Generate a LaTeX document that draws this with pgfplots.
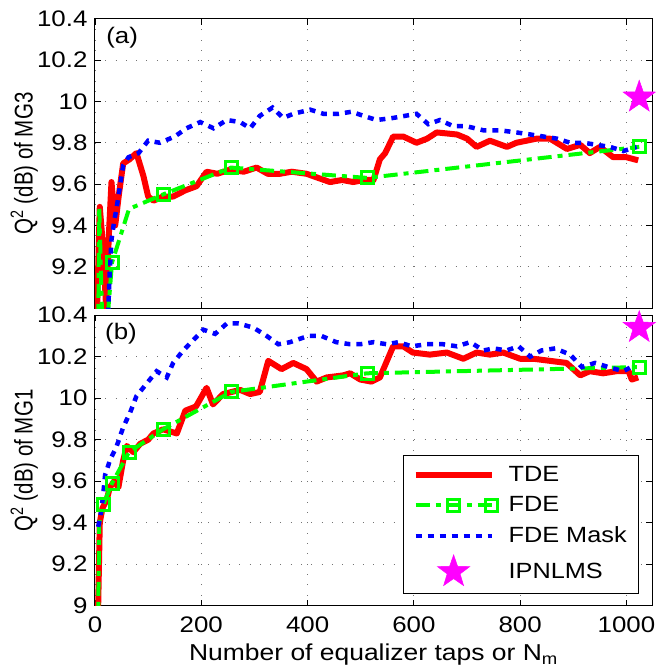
\documentclass[border=0pt]{standalone}
\usepackage{fontspec}
\setmainfont{Liberation Sans}[FakeStretch=1.15]
\newfontfamily\ylfont{Liberation Sans}
\usepackage{graphicx}
\usepackage{pgfplots}
\pgfplotsset{compat=1.18}

\definecolor{mred}{RGB}{255,0,0}
\definecolor{mgreen}{RGB}{0,255,0}
\definecolor{mblue}{RGB}{0,0,255}
\definecolor{mmag}{RGB}{255,0,255}

\pgfdeclareplotmark{pentagram}{%
  \pgfpathmoveto{\pgfpointpolar{90}{\pgfplotmarksize}}%
  \pgfpathlineto{\pgfpointpolar{126}{0.40\pgfplotmarksize}}%
  \pgfpathlineto{\pgfpointpolar{162}{\pgfplotmarksize}}%
  \pgfpathlineto{\pgfpointpolar{198}{0.40\pgfplotmarksize}}%
  \pgfpathlineto{\pgfpointpolar{234}{\pgfplotmarksize}}%
  \pgfpathlineto{\pgfpointpolar{270}{0.40\pgfplotmarksize}}%
  \pgfpathlineto{\pgfpointpolar{306}{\pgfplotmarksize}}%
  \pgfpathlineto{\pgfpointpolar{342}{0.40\pgfplotmarksize}}%
  \pgfpathlineto{\pgfpointpolar{18}{\pgfplotmarksize}}%
  \pgfpathlineto{\pgfpointpolar{54}{0.40\pgfplotmarksize}}%
  \pgfpathclose
  \pgfusepathqfillstroke}

\pgfplotsset{
  mystyle/.style={
    scale only axis, width=557pt,
    xmin=0, xmax=1048, ymin=9, ymax=10.4,
    xtick={0,200,400,600,800,1000},
    tick align=inside, major tick length=6pt,
    grid=major,
    grid style={black!55, line width=0.8pt, dash pattern=on 0.8pt off 9.5pt},
    axis line style={line width=1pt},
    every tick/.style={black, line width=0.8pt},
    tick label style={font=\fontsize{22.5}{26}\selectfont},
    yticklabel style={xshift=-4pt},
    xticklabel style={yshift=-8pt},
    /pgf/number format/assume math mode=true,
    ylabel style={font=\ylfont\fontsize{20.5}{24}\selectfont, at={(axis description cs:-0.1023,0.5)}, anchor=south, inner sep=0pt},
    legend image code/.code={\draw[mark repeat=2,mark phase=2,#1] plot coordinates {(0pt,0pt) (38pt,0pt) (76pt,0pt)};},
  },
  tde/.style={color=mred, line width=6pt, line join=round, no marks},
  fde/.style={color=mgreen, line width=4pt, dash pattern=on 14pt off 6pt on 5pt off 6pt, mark=square, mark size=6pt, mark options={solid, line width=3pt, fill=none}},
  fdem/.style={color=mblue, line width=4.5pt, dash pattern=on 6pt off 6pt, no marks},
  ipn/.style={color=mmag, only marks, mark=pentagram, mark size=17pt, mark options={fill=mmag, line width=0.5pt}},
}

\begin{document}
\begin{tikzpicture}
\useasboundingbox (-95pt,-63.3pt) rectangle (561pt,605.7pt);

% ---------- top panel (a) ----------
\begin{axis}[mystyle, at={(0pt,297.5pt)}, anchor=south west, height=289.5pt,
  ytick={9.2,9.4,9.6,9.8,10,10.2,10.4},
  yticklabels={9.2,9.4,9.6,9.8,10,10.2,10.4},
  xticklabels={},
  ylabel={\scalebox{1}[1.25]{Q\textsuperscript{2} (dB) of MG3}}]
\addplot[tde] coordinates {
(2,8.8) (9,9.49) (15,9.30) (21,9.0) (26,9.35) (31,9.61) (38,9.40) (45,9.55)
(53,9.70) (65,9.72) (78,9.75) (91,9.64) (100,9.54) (110,9.52) (128,9.54)
(147,9.54) (170,9.57) (191,9.59) (210,9.66) (230,9.65) (254,9.67) (280,9.66)
(304,9.68) (325,9.65) (348,9.65) (370,9.66) (398,9.65) (420,9.63) (442,9.61)
(465,9.62) (486,9.61) (505,9.62) (524,9.62) (536,9.72) (546,9.75)
(561,9.83) (580,9.83) (605,9.80) (625,9.82) (643,9.85) (681,9.84) (700,9.82)
(718,9.78) (743,9.81) (775,9.78) (793,9.80) (831,9.82) (856,9.82) (888,9.77)
(913,9.79) (931,9.75) (950,9.78) (975,9.73) (1000,9.73) (1022,9.715)
};
\addplot[fde, mark indices={2,4,5,6,7,8,9}] coordinates {
(4,8.3) (8,9.49) (16,8.7) (32,9.22) (64,9.48) (128,9.55) (256,9.68) (512,9.63) (1024,9.78)
};
\addplot[fdem] coordinates {
(22,8.8) (25,9.0) (28,9.19) (31,9.33) (36,9.42) (41,9.49) (47,9.59) (53,9.69)
(63,9.73) (82,9.75) (100,9.81) (122,9.80) (150,9.83) (172,9.87) (198,9.90)
(223,9.87) (248,9.91) (273,9.90) (292,9.87) (310,9.93) (334,9.97) (354,9.92)
(373,9.94) (405,9.96) (430,9.94) (458,9.94) (483,9.95) (505,9.93) (530,9.91)
(561,9.92) (583,9.93) (605,9.94) (627,9.89) (649,9.91) (674,9.88) (699,9.88)
(731,9.86) (762,9.86) (793,9.85) (819,9.84) (844,9.83) (869,9.82) (894,9.80)
(919,9.80) (944,9.79) (969,9.78) (994,9.76) (1019,9.78)
};
\addplot[ipn] coordinates {(1024,10.02)};
\node[anchor=north west, inner sep=0pt, font=\fontsize{22.5}{26}\selectfont] at (rel axis cs:0.02,0.97) {(a)};
\end{axis}

% ---------- bottom panel (b) ----------
\begin{axis}[mystyle, at={(0pt,0pt)}, anchor=south west, height=290.5pt,
  ytick={9,9.2,9.4,9.6,9.8,10,10.2,10.4},
  yticklabels={9,9.2,9.4,9.6,9.8,10,10.2,10.4},
  xticklabels={0,200,400,600,800,1000},
  ylabel={\scalebox{1}[1.25]{Q\textsuperscript{2} (dB) of MG1}},
  xlabel={Number of equalizer taps or N\textsubscript{m}},
  xlabel style={font=\fontsize{23}{27}\selectfont, at={(axis description cs:0.5,-0.188)}, anchor=base, inner sep=0pt},
  legend style={at={(0.977,0.04)}, anchor=south east, draw=black, line width=1pt,
     font=\fontsize{22}{26}\selectfont, inner xsep=9pt, inner ysep=8pt,
     row sep=7.5pt, column sep=8pt,
     nodes={text height=16pt, text depth=3pt, inner ysep=2pt, inner xsep=3pt}},
  legend cell align=left]
\addplot[tde] coordinates {
(3,8.8) (6,9.0) (9,9.40) (14,9.47) (22,9.51) (28,9.57) (36,9.60) (44,9.57)
(53,9.70) (60,9.77) (72,9.74) (85,9.78) (100,9.80) (110,9.83) (128,9.85)
(154,9.83) (170,9.94) (190,9.96) (210,10.05) (222,9.97) (241,10.02) (273,10.04)
(292,10.02) (310,10.03) (326,10.18) (351,10.14) (373,10.17) (398,10.14)
(417,10.08) (436,10.10) (467,10.11) (480,10.12) (499,10.09) (520,10.08)
(536,10.10) (561,10.25) (580,10.25) (598,10.22) (630,10.21) (662,10.22)
(693,10.19) (718,10.22) (743,10.21) (768,10.22) (800,10.19) (825,10.19)
(856,10.18) (887,10.17) (913,10.11) (931,10.13) (956,10.12) (981,10.13)
(1004,10.13) (1010,10.09) (1022,10.10)
};
\addlegendentry{TDE}
\addplot[fde, mark indices={2,3,4,5,6,7,8,9}] coordinates {
(3,8.3) (8,9.40) (16,9.49) (32,9.59) (64,9.74) (128,9.85) (256,10.03) (512,10.12) (1024,10.15)
};
\addlegendentry{FDE}
\addplot[fdem] coordinates {
(6,9.38) (12,9.46) (16,9.55) (19,9.63) (28,9.70) (41,9.77) (53,9.86) (66,9.93)
(78,10.01) (97,10.07) (116,10.13) (135,10.10) (147,10.17) (166,10.23)
(185,10.28) (204,10.33) (226,10.31) (248,10.36) (270,10.36) (298,10.34)
(323,10.30) (345,10.26) (367,10.27) (401,10.30) (426,10.30) (454,10.27)
(480,10.26) (499,10.26) (524,10.27) (549,10.26) (571,10.27) (596,10.25)
(624,10.26) (655,10.26) (681,10.25) (706,10.27) (731,10.23) (750,10.24)
(774,10.23) (797,10.25) (819,10.20) (840,10.23) (866,10.24) (894,10.21)
(916,10.15) (941,10.17) (966,10.15) (994,10.13) (1016,10.16)
};
\addlegendentry{FDE Mask}
\addplot[ipn] coordinates {(1024,10.34)};
\addlegendentry{IPNLMS}
\node[anchor=north west, inner sep=0pt, font=\fontsize{22.5}{26}\selectfont] at (rel axis cs:0.018,0.972) {(b)};
\end{axis}
\end{tikzpicture}
\end{document}
